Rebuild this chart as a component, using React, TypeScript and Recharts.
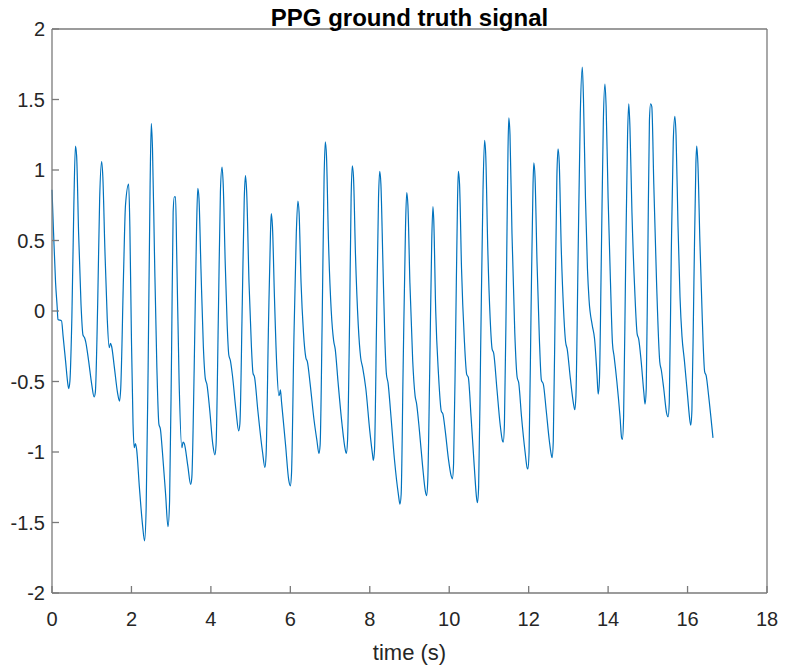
import { LineChart, Line, XAxis, YAxis, Label } from 'recharts';

const chartTitle = 'PPG ground truth signal';
const xLabel = 'time (s)';
const xTicks = [0, 2, 4, 6, 8, 10, 12, 14, 16, 18];
const yTicks = [-2, -1.5, -1, -0.5, 0, 0.5, 1, 1.5, 2];

// sample times (s), one row per beat
const time = [
  0.00, 0.04, 0.09, 0.13, 0.15, 0.24, 0.28, 0.34, 0.40, 0.42,
  0.45, 0.50, 0.55, 0.59, 0.62, 0.67, 0.73, 0.78, 0.82, 0.85, 0.92, 1.00, 1.06,
  1.09, 1.15, 1.20, 1.25, 1.28, 1.33, 1.39, 1.44, 1.47, 1.50, 1.57, 1.65, 1.70,
  1.73, 1.80, 1.85, 1.93, 1.96, 2.00, 2.04, 2.07, 2.10, 2.13, 2.20, 2.28, 2.33,
  2.37, 2.42, 2.47, 2.50, 2.53, 2.58, 2.64, 2.69, 2.73, 2.78, 2.86, 2.92,
  2.96, 3.01, 3.05, 3.08, 3.11, 3.14, 3.20, 3.27, 3.30, 3.33, 3.42, 3.49,
  3.52, 3.58, 3.64, 3.67, 3.70, 3.75, 3.81, 3.86, 3.90, 3.97, 4.05, 4.10,
  4.13, 4.19, 4.24, 4.28, 4.31, 4.36, 4.41, 4.45, 4.49, 4.54, 4.63, 4.70,
  4.73, 4.79, 4.84, 4.87, 4.90, 4.96, 5.02, 5.06, 5.10, 5.18, 5.30, 5.36,
  5.39, 5.45, 5.50, 5.52, 5.55, 5.60, 5.66, 5.71, 5.73, 5.75, 5.78, 5.88, 5.96, 6.00,
  6.03, 6.09, 6.15, 6.19, 6.22, 6.27, 6.33, 6.39, 6.43, 6.50, 6.60, 6.67, 6.72,
  6.75, 6.80, 6.85, 6.88, 6.91, 6.96, 7.03, 7.09, 7.13, 7.20, 7.30, 7.38, 7.41,
  7.44, 7.49, 7.53, 7.56, 7.59, 7.64, 7.71, 7.77, 7.82, 7.90, 8.00, 8.07, 8.09,
  8.12, 8.17, 8.22, 8.25, 8.28, 8.33, 8.38, 8.42, 8.46, 8.52, 8.62, 8.72, 8.76,
  8.79, 8.84, 8.90, 8.93, 8.96, 9.01, 9.08, 9.14, 9.18, 9.25, 9.33, 9.40, 9.43,
  9.46, 9.51, 9.56, 9.59, 9.61, 9.66, 9.73, 9.80, 9.84, 9.90, 9.98, 10.05, 10.08,
  10.11, 10.16, 10.21, 10.23, 10.26, 10.31, 10.38, 10.44, 10.48, 10.55, 10.63, 10.69, 10.71,
  10.74, 10.79, 10.85, 10.89, 10.92, 10.97, 11.03, 11.08, 11.12, 11.20, 11.28, 11.34, 11.36,
  11.39, 11.44, 11.48, 11.50, 11.53, 11.58, 11.65, 11.71, 11.75, 11.82, 11.91, 11.96, 11.98,
  12.01, 12.06, 12.11, 12.13, 12.16, 12.21, 12.27, 12.32, 12.37, 12.44, 12.52, 12.57, 12.59,
  12.62, 12.67, 12.71, 12.74, 12.77, 12.82, 12.88, 12.93, 12.97, 13.05, 13.13, 13.16,
  13.19, 13.24, 13.30, 13.35, 13.38, 13.43, 13.48, 13.52, 13.60, 13.66, 13.72, 13.75,
  13.78, 13.83, 13.88, 13.92, 13.95, 14.00, 14.06, 14.11, 14.15, 14.22, 14.30, 14.34, 14.36,
  14.39, 14.44, 14.49, 14.52, 14.55, 14.60, 14.67, 14.73, 14.77, 14.83, 14.90, 14.93,
  14.96, 15.00, 15.04, 15.07, 15.10, 15.15, 15.22, 15.30, 15.34, 15.40, 15.47, 15.51,
  15.54, 15.59, 15.64, 15.68, 15.71, 15.76, 15.81, 15.86, 15.92, 16.00, 16.06, 16.08,
  16.11, 16.16, 16.21, 16.23, 16.26, 16.31, 16.37, 16.43, 16.47, 16.53, 16.64,
];

// signal values, same rows as time
const ppg = [
  0.86, 0.55, 0.20, 0.03, -0.06, -0.07, -0.18, -0.35, -0.52, -0.55,
  -0.50, -0.05, 0.75, 1.17, 1.10, 0.55, 0.05, -0.17, -0.19, -0.22, -0.35, -0.52, -0.61,
  -0.58, 0.05, 0.80, 1.06, 0.95, 0.45, -0.05, -0.26, -0.23, -0.25, -0.40, -0.58, -0.64,
  -0.55, 0.25, 0.75, 0.90, 0.60, -0.20, -0.80, -0.97, -0.94, -0.98, -1.25, -1.52, -1.63,
  -1.40, -0.40, 0.90, 1.33, 1.15, 0.40, -0.40, -0.80, -0.84, -1.00, -1.30, -1.53,
  -1.35, -0.30, 0.70, 0.81, 0.81, 0.40, -0.50, -0.97, -0.93, -0.94, -1.10, -1.23,
  -1.18, -0.40, 0.60, 0.87, 0.80, 0.30, -0.25, -0.48, -0.52, -0.70, -0.95, -1.02,
  -0.95, 0.00, 0.85, 1.02, 0.90, 0.35, -0.10, -0.31, -0.35, -0.45, -0.70, -0.85,
  -0.80, 0.05, 0.80, 0.96, 0.85, 0.20, -0.25, -0.44, -0.47, -0.70, -1.00, -1.11,
  -1.02, -0.10, 0.55, 0.69, 0.60, 0.10, -0.40, -0.60, -0.59, -0.56, -0.65, -0.95, -1.20, -1.24,
  -1.15, -0.20, 0.55, 0.78, 0.70, 0.20, -0.15, -0.33, -0.36, -0.52, -0.78, -0.92, -1.01,
  -0.95, -0.10, 0.95, 1.20, 1.10, 0.50, 0.00, -0.21, -0.27, -0.50, -0.80, -0.98, -1.01,
  -0.92, -0.10, 0.80, 1.03, 0.95, 0.40, -0.10, -0.33, -0.40, -0.55, -0.85, -1.02, -1.06,
  -0.98, -0.10, 0.80, 0.99, 0.90, 0.35, -0.20, -0.45, -0.51, -0.70, -1.05, -1.30, -1.37,
  -1.30, -0.40, 0.60, 0.84, 0.75, 0.20, -0.35, -0.60, -0.66, -0.85, -1.10, -1.28, -1.31,
  -1.20, -0.40, 0.50, 0.74, 0.65, 0.00, -0.45, -0.71, -0.73, -0.85, -1.05, -1.17, -1.19,
  -1.08, -0.20, 0.80, 0.99, 0.90, 0.30, -0.20, -0.45, -0.47, -0.75, -1.10, -1.33, -1.36,
  -1.25, -0.30, 0.85, 1.21, 1.10, 0.45, -0.05, -0.27, -0.30, -0.55, -0.80, -0.92, -0.93,
  -0.80, 0.20, 1.15, 1.37, 1.25, 0.55, -0.15, -0.47, -0.51, -0.75, -1.00, -1.11, -1.12,
  -1.00, 0.00, 0.90, 1.05, 0.95, 0.35, -0.20, -0.49, -0.52, -0.70, -0.92, -1.02, -1.04,
  -0.92, 0.10, 0.95, 1.15, 1.05, 0.45, 0.00, -0.22, -0.27, -0.48, -0.66, -0.70,
  -0.60, 0.30, 1.40, 1.73, 1.50, 0.80, 0.30, 0.08, -0.10, -0.20, -0.45, -0.59,
  -0.50, 0.40, 1.35, 1.61, 1.45, 0.80, 0.20, -0.23, -0.32, -0.50, -0.75, -0.90, -0.91,
  -0.75, 0.30, 1.25, 1.47, 1.30, 0.70, 0.15, -0.16, -0.20, -0.35, -0.58, -0.66,
  -0.55, 0.40, 1.35, 1.47, 1.45, 0.90, 0.20, -0.36, -0.42, -0.55, -0.72, -0.75,
  -0.65, 0.40, 1.20, 1.38, 1.25, 0.60, 0.10, -0.18, -0.35, -0.60, -0.78, -0.81,
  -0.70, 0.20, 1.05, 1.17, 1.05, 0.50, -0.05, -0.43, -0.46, -0.60, -0.90,
];

const data = time.map((t, i) => ({ t, v: ppg[i] }));

const axisColor = '#7a7a7a';
const textColor = '#262626';
const font = '"Liberation Sans", Arial, sans-serif';
const tickStyle = { fill: textColor, fontSize: 20, fontFamily: font };

export default function App() {
  return (
    <div style={{ position: 'absolute', left: 0, top: 0, background: '#fff' }}>
      <LineChart
        width={785}
        height={668}
        data={data}
        margin={{ top: 28, right: 17, bottom: 0, left: 0 }}
      >
        <XAxis
          xAxisId="bottom"
          dataKey="t"
          type="number"
          domain={[0, 18]}
          ticks={xTicks}
          height={75}
          tickSize={-7}
          tickMargin={26}
          stroke={axisColor}
          strokeWidth={1.3}
          tick={tickStyle}
        >
          <Label
            value={xLabel}
            position="insideBottom"
            offset={8}
            style={{ fill: textColor, fontSize: 22, fontFamily: font }}
          />
        </XAxis>
        <XAxis
          xAxisId="top"
          orientation="top"
          dataKey="t"
          type="number"
          domain={[0, 18]}
          ticks={xTicks}
          height={1}
          tickSize={-7}
          stroke={axisColor}
          strokeWidth={1.3}
          tick={false}
        >
          <Label
            value={chartTitle}
            position="top"
            offset={2}
            style={{ fill: '#000', fontSize: 24, fontWeight: 'bold', fontFamily: font }}
          />
        </XAxis>
        <YAxis
          yAxisId="left"
          type="number"
          domain={[-2, 2]}
          ticks={yTicks}
          width={52}
          tickSize={-7}
          tickMargin={14}
          stroke={axisColor}
          strokeWidth={1.3}
          tick={tickStyle}
        />
        <YAxis
          yAxisId="right"
          orientation="right"
          type="number"
          domain={[-2, 2]}
          ticks={yTicks}
          width={1}
          tickSize={-7}
          stroke={axisColor}
          strokeWidth={1.3}
          tick={false}
        />
        <Line
          xAxisId="bottom"
          yAxisId="left"
          type="monotone"
          dataKey="v"
          stroke="#0072BD"
          strokeWidth={1.2}
          dot={false}
          isAnimationActive={false}
        />
      </LineChart>
    </div>
  );
}
